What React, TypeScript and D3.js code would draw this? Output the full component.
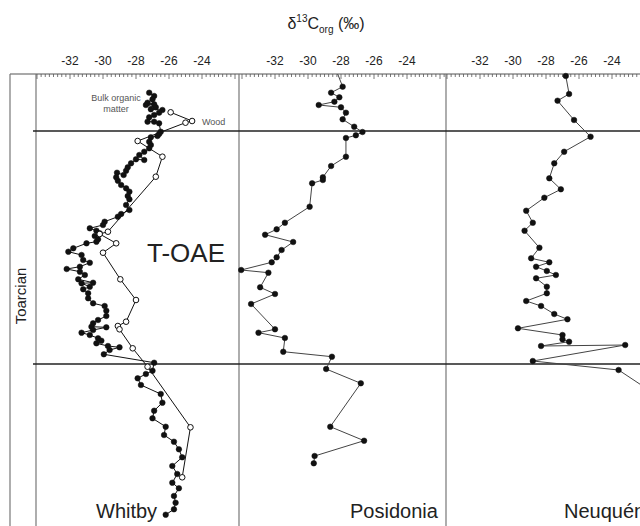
import React from 'react';
import * as d3 from 'd3';

// stratigraphic position (arbitrary units, counted down from top of section)
// paired with d13C org (permil)
const whitbyBulk: [number, number][] = [
  [-27.2, 18.7], [-26.9, 22], [-27.0, 25.3], [-27.3, 28.7], [-26.9, 30.3], [-27.4, 31],
  [-26.8, 33.3], [-27.1, 35.3], [-26.4, 36], [-26.6, 38.7], [-26.9, 41], [-27.2, 43.3],
  [-27.3, 47.7], [-26.9, 47.7], [-26.6, 49.3], [-26.5, 57.7], [-26.6, 60], [-26.7, 62],
  [-27.1, 63.3], [-27.2, 67.7], [-27.1, 71], [-27.2, 74.3], [-27.5, 77.7], [-27.8, 81],
  [-27.5, 86], [-28.0, 85.3], [-28.3, 89.3], [-28.5, 93.3], [-28.6, 96.7], [-28.75, 101],
  [-29.15, 98.7], [-29.2, 103.3], [-29.1, 106.7], [-28.9, 111], [-28.6, 114.3], [-28.4, 117.7],
  [-28.5, 122], [-28.4, 125.3], [-28.6, 131], [-28.4, 136], [-28.9, 140], [-29.1, 142.7],
  [-29.9, 147.7], [-30.0, 151], [-30.8, 154.3], [-30.4, 156.7], [-30.2, 159.3], [-30.5, 162],
  [-30.3, 165.3], [-30.4, 167.7], [-31.0, 169.3], [-31.8, 174.3], [-32.1, 177.7], [-31.3, 181],
  [-31.2, 186], [-30.8, 188.7], [-31.4, 192.7], [-32.2, 195], [-31.4, 197.7], [-31.1, 201],
  [-31.5, 205.3], [-30.6, 208.7], [-31.3, 209.3], [-30.8, 212.7], [-31.2, 215.3], [-30.9, 219.3],
  [-30.9, 224.3], [-30.6, 229.3], [-29.9, 232], [-29.8, 236.7], [-29.8, 242], [-30.3, 246],
  [-30.6, 249.3], [-30.7, 252.7], [-29.8, 253.3], [-30.6, 256], [-31.3, 258.7], [-30.8, 261],
  [-30.3, 264.3], [-30.1, 266.7], [-30.4, 269.3], [-29.7, 272], [-29.0, 273.3], [-29.6, 276],
  [-29.95, 280.3], [-26.9, 288.7], [-27.0, 296.7], [-27.4, 300], [-27.9, 304.3], [-27.7, 311],
  [-26.5, 320], [-26.4, 328.7], [-26.9, 336.7], [-27.0, 344.3], [-26.2, 352.7], [-26.3, 361],
  [-25.7, 367.7], [-25.4, 375.3], [-25.2, 383.3], [-25.8, 392], [-25.5, 400], [-25.8, 408.7],
  [-25.4, 414.3], [-25.7, 422], [-25.6, 428.7], [-25.7, 435.3], [-26.2, 440.7],
];

const whitbyWood: [number, number][] = [
  [-25.9, 38.3], [-24.6, 47], [-25.0, 48.7], [-27.9, 67], [-26.4, 82.7], [-26.8, 102.7],
  [-29.7, 157.7], [-30.2, 160], [-29.2, 169.3], [-30.0, 178.7], [-28.95, 205.3], [-28.0, 226],
  [-28.6, 247.7], [-29.1, 252], [-29.0, 255.3], [-28.2, 274.3], [-27.3, 292.7], [-24.7, 353.3],
  [-25.2, 403.3],
];

const posidonia: [number, number][] = [
  [-27.9, 12.7], [-28.6, 18.7], [-28.1, 23.3], [-28.4, 27.7], [-29.35, 31], [-28.0, 33.3],
  [-27.7, 38.7], [-27.9, 45.3], [-27.2, 52.7], [-26.7, 58], [-27.1, 61.3], [-27.7, 64],
  [-27.7, 82.7], [-28.6, 92], [-29.1, 103.3], [-29.1, 106], [-29.75, 109.3], [-29.9, 132.7],
  [-31.4, 148.7], [-31.9, 155.3], [-32.6, 160.7], [-30.9, 168], [-31.6, 176], [-31.9, 183.3],
  [-32.2, 188.3], [-34.05, 196], [-32.4, 198.7], [-32.9, 213.3], [-32.0, 220], [-33.45, 230],
  [-32.0, 255.3], [-33.0, 258.7], [-31.4, 264], [-31.5, 277.7], [-28.55, 282.7], [-28.9, 295],
  [-26.8, 309.3], [-28.65, 352.7], [-26.6, 366.7], [-29.6, 382], [-29.65, 389.3],
];
// posidonia curve runs on up to the top of the column without a sample there
const posidoniaTop: [number, number] = [-28.2, 0];

const neuquen: [number, number][] = [
  [-26.8, 2], [-26.6, 20], [-27.3, 26.7], [-26.3, 46], [-25.3, 62.7], [-26.9, 77.7],
  [-27.5, 89.3], [-27.8, 104.3], [-27.1, 115.3], [-28.1, 123.7], [-29.2, 136.7], [-28.8, 148.7],
  [-29.3, 156.7], [-28.4, 173.7], [-28.9, 184.3], [-27.8, 188.3], [-28.6, 192.7], [-27.95, 197],
  [-27.4, 201], [-28.6, 204.3], [-27.95, 212.7], [-27.95, 219.3], [-29.2, 227], [-28.3, 232],
  [-27.5, 240], [-26.7, 245.3], [-29.7, 254.3], [-27.0, 261], [-27.0, 265.3], [-26.6, 267.7],
  [-28.3, 272], [-23.2, 271], [-28.8, 287], [-23.6, 296], [-21.5, 319],
];

const tickLabels = [-32, -30, -28, -26, -24];
const zoneBounds = [57, 290]; // T-OAE top and base, same units as depth
const depthRange = [0, 452];

const FONT = 'Liberation Sans, Arial, Helvetica, sans-serif';
const W = 640;
const H = 526;
const TOP = 74;

const panels = [
  { name: 'Whitby', left: 36, right: 239, origin: 70, labelX: 96 },
  { name: 'Posidonia', left: 239, right: 446, origin: 275, labelX: 350 },
  { name: 'Neuquén', left: 446, right: 640, origin: 480, labelX: 564 },
];

function App() {
  const y = d3.scaleLinear().domain(depthRange).range([TOP, H]);
  const xs = panels.map(p => d3.scaleLinear().domain([-32, -24]).range([p.origin, p.origin + 132]));
  const lineFor = (x: d3.ScaleLinear<number, number>) =>
    d3.line<[number, number]>().x(d => x(d[0])).y(d => y(d[1]));

  const series = [
    { data: whitbyBulk, panel: 0, stroke: '#111', open: false },
    { data: whitbyWood, panel: 0, stroke: '#111', open: true },
    { data: posidonia, panel: 1, stroke: '#444', open: false },
    { data: neuquen, panel: 2, stroke: '#444', open: false },
  ];

  return (
    <svg width={W} height={H} style={{ position: 'absolute', left: 0, top: 0, background: '#fff' }}
      fontFamily={FONT}>
      {/* title */}
      <text x={326} y={29} textAnchor="middle" fontSize={16} fill="#222">
        <tspan>δ</tspan>
        <tspan fontSize={10} dy={-7}>13</tspan>
        <tspan dy={7}>C</tspan>
        <tspan fontSize={10} dy={4}>org</tspan>
        <tspan dy={-4}> (‰)</tspan>
      </text>

      {/* frame */}
      <line x1={10} x2={W} y1={TOP} y2={TOP} stroke="#555" strokeWidth={1.2} />
      <line x1={10} x2={10} y1={TOP} y2={H} stroke="#777" strokeWidth={1.2} />
      {panels.map((p, i) => (
        <line key={'v' + i} x1={p.left} x2={p.left} y1={TOP} y2={H} stroke="#777" strokeWidth={1.2} />
      ))}
      {zoneBounds.map((b, i) => (
        <line key={'h' + i} x1={33} x2={W} y1={y(b)} y2={y(b)} stroke="#222" strokeWidth={1.3} />
      ))}
      <text transform="translate(26,296) rotate(-90)" textAnchor="middle" fontSize={15} fill="#222">Toarcian</text>

      {/* rulers */}
      {panels.map((p, i) => {
        const x = xs[i];
        const ticks: number[] = [];
        for (let v = Math.ceil(x.invert(p.left + 1) * 4) / 4; x(v) < p.right - 0.5; v += 0.25) ticks.push(v);
        return (
          <g key={'r' + i}>
            {ticks.map((v, j) => {
              const major = Math.abs(v / 2 - Math.round(v / 2)) < 1e-6;
              return <line key={j} x1={x(v)} x2={x(v)} y1={TOP} y2={TOP + (major ? 5 : 3)} stroke="#555" strokeWidth={0.8} />;
            })}
            {tickLabels.map(v => (
              <text key={v} x={x(v)} y={65} textAnchor="middle" fontSize={12} fill="#222">{String(v)}</text>
            ))}
          </g>
        );
      })}

      {/* data */}
      <path d={lineFor(xs[1])([posidoniaTop, posidonia[0]]) || ''} fill="none" stroke="#444" strokeWidth={1} />
      {series.map((s, i) => {
        const x = xs[s.panel];
        return (
          <g key={'s' + i}>
            <path d={lineFor(x)(s.data) || ''} fill="none" stroke={s.stroke} strokeWidth={1} />
            {s.data.map((d, j) => (
              <circle key={j} cx={x(d[0])} cy={y(d[1])} r={2.8}
                fill={s.open ? '#fff' : '#111'} stroke="#111" strokeWidth={s.open ? 1 : 0.5} />
            ))}
          </g>
        );
      })}

      {/* annotations */}
      <text x={116} y={100.5} textAnchor="middle" fontSize={9} fill="#555">Bulk organic</text>
      <text x={116} y={112} textAnchor="middle" fontSize={9} fill="#555">matter</text>
      <text x={202} y={124.5} fontSize={9} fill="#555">Wood</text>
      <text x={147} y={262} fontSize={26} fill="#222">T-OAE</text>
      {panels.map((p, i) => (
        <text key={'n' + i} x={p.labelX} y={518} fontSize={20} fill="#222">{p.name}</text>
      ))}
    </svg>
  );
}

export default App;
